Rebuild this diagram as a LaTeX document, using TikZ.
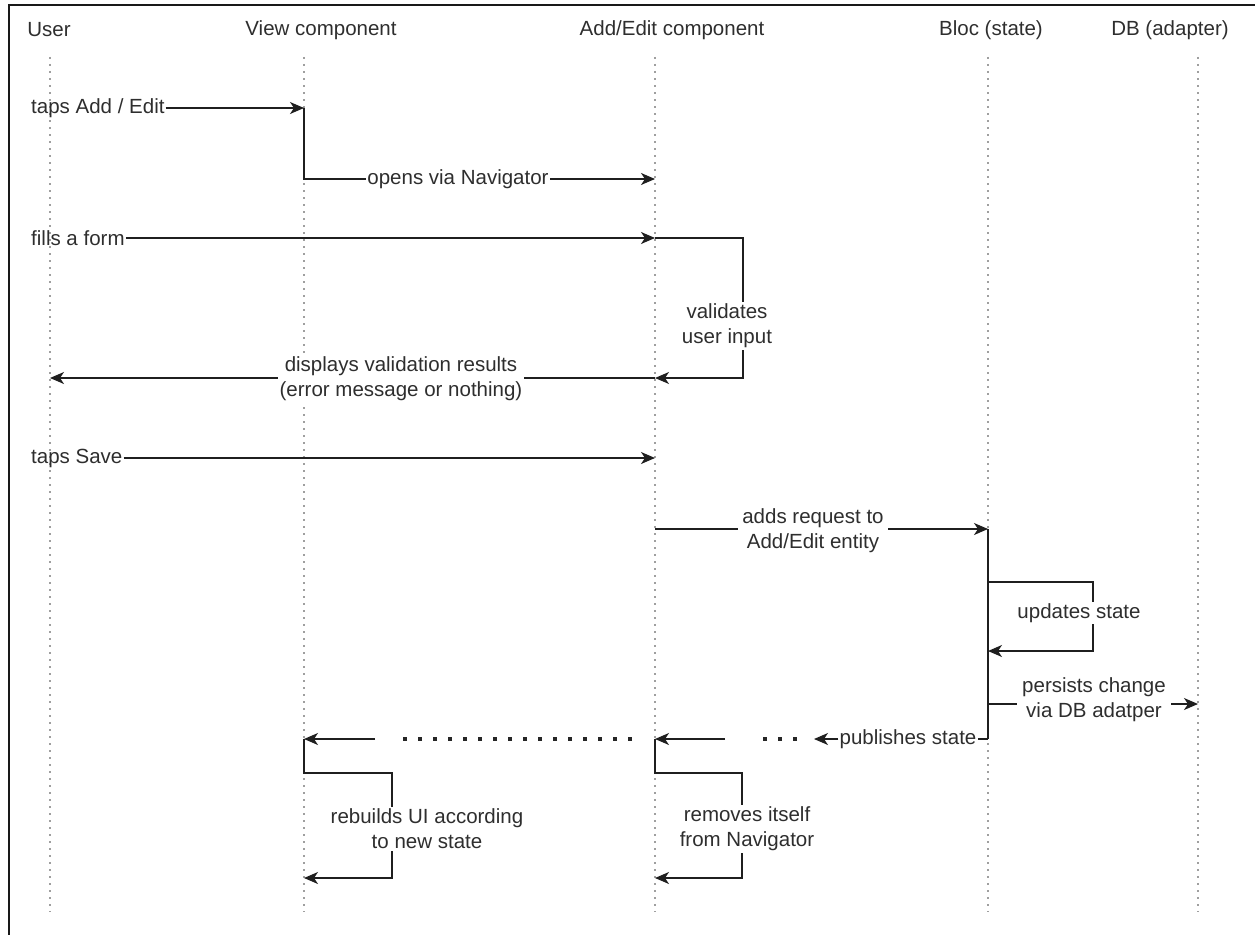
\documentclass[tikz,border=0pt]{standalone}
\usepackage{fontspec}
\setmainfont{Liberation Sans}
\usetikzlibrary{arrows.meta}
\begin{document}
\begin{tikzpicture}[x=1pt,y=-1pt,
  every node/.style={font=\fontsize{20.5}{25}\selectfont, text=black!82, inner sep=1pt},
  lifeline/.style={gray!75, line width=1.6pt, dash pattern=on 1.6pt off 5.4pt},
  msg/.style={black!88, line width=1.4pt},
  arr/.style={msg, -{Stealth[length=14pt,width=12pt,inset=4pt]}},
  lbl/.style={fill=white, align=center, inner sep=1.5pt},
  gapdots/.style={black!85, line width=3.6pt, dash pattern=on 3.6pt off 11.4pt}
]
\useasboundingbox (0,0) rectangle (1255,934);
% frame
\draw[line width=2pt, black!90] (9,936) -- (9,5) -- (1257,5);

% participants
\node (hUser) at (49,30) {User};
\node (hView) at (321,30) {View component};
\node (hEdit) at (672,30) {Add/Edit component};
\node (hBloc) at (991,30) {Bloc (state)};
\node (hDB)   at (1170,30) {DB (adapter)};

% lifelines
\coordinate (uT) at (50,57);   \coordinate (uB) at (50,912);
\coordinate (vT) at (304,57);  \coordinate (vB) at (304,912);
\coordinate (eT) at (655,57);  \coordinate (eB) at (655,912);
\coordinate (bT) at (988,57);  \coordinate (bB) at (988,912);
\coordinate (dT) at (1198,57); \coordinate (dB) at (1198,912);
\foreach \t/\b in {uT/uB, vT/vB, eT/eB, bT/bB, dT/dB}
  \draw[lifeline] (\t) -- (\b);

% taps Add / Edit
\node[anchor=west] (m1) at (30,108) {taps Add / Edit};
\coordinate (v1) at (304,108);
\draw[arr] (m1.east) -- (v1);

% opens via Navigator
\coordinate (v2) at (304,179);
\coordinate (e2) at (655,179);
\draw[arr] (v1) -- (v2) -- (e2);
\node[lbl] (m2) at (458,179) {opens via Navigator};

% fills a form + validation loop
\node[anchor=west] (m3) at (30,238) {fills a form};
\coordinate (e3) at (655,238);
\coordinate (k3a) at (743,238);
\coordinate (k3b) at (743,378);
\coordinate (e4) at (655,378);
\draw[arr] (m3.east) -- (e3);
\draw[arr] (e3) -- (k3a) -- (k3b) -- (e4);
\node[lbl] (m3l) at (727,326) {validates\\user input};

% validation results back to the user
\coordinate (u4) at (50,378);
\draw[arr] (e4) -- (u4);
\node[lbl] (m4) at (401,379) {displays validation results\\(error message or nothing)};

% taps Save
\node[anchor=west] (m5) at (30,458) {taps Save};
\coordinate (e5) at (655,458);
\draw[arr] (m5.east) -- (e5);

% request to the bloc
\coordinate (e6) at (655,529);
\coordinate (b6) at (988,529);
\draw[arr] (e6) -- (b6);
\node[lbl, inner sep=4pt] (m6) at (813,531) {adds request to\\Add/Edit entity};

% bloc activity
\coordinate (b9) at (988,739);
\draw[msg] (b6) -- (b9);

% updates state loop
\coordinate (b7) at (988,582);
\coordinate (k7a) at (1093,582);
\coordinate (k7b) at (1093,651);
\coordinate (b7e) at (988,651);
\draw[arr] (b7) -- (k7a) -- (k7b) -- (b7e);
\node[lbl] (m7) at (1079,613) {updates state};

% persists change
\coordinate (b8) at (988,704);
\coordinate (d8) at (1198,704);
\draw[arr] (b8) -- (d8);
\node[lbl, inner sep=5pt] (m8) at (1094,700) {persists change\\via DB adatper};

% publishes state
\node (m9) at (908,739) {publishes state};
\coordinate (p1) at (814,739);
\draw[msg] (b9) -- (m9.east);
\draw[arr] (m9.west) -- (p1);
\coordinate (p2a) at (797,739); \coordinate (p2b) at (762,739);
\draw[gapdots] (p2a) -- (p2b);
\coordinate (p3) at (725,739);
\coordinate (e9) at (655,739);
\draw[arr] (p3) -- (e9);
\coordinate (p4a) at (632,739); \coordinate (p4b) at (401,739);
\draw[gapdots] (p4a) -- (p4b);
\coordinate (p5) at (375,739);
\coordinate (v9) at (304,739);
\draw[arr] (p5) -- (v9);

% removes itself from Navigator
\coordinate (e10) at (655,773);
\coordinate (k10a) at (742,773);
\coordinate (k10b) at (742,878);
\coordinate (e10e) at (655,878);
\draw[arr] (e9) -- (e10) -- (k10a) -- (k10b) -- (e10e);
\node[lbl] (m10) at (747,829) {removes itself\\from Navigator};

% rebuilds UI
\coordinate (v10) at (304,773);
\coordinate (k11a) at (392,773);
\coordinate (k11b) at (392,878);
\coordinate (v10e) at (304,878);
\draw[arr] (v9) -- (v10) -- (k11a) -- (k11b) -- (v10e);
\node[lbl] (m11) at (427,829) {rebuilds UI according\\to new state};
\end{tikzpicture}
\end{document}
